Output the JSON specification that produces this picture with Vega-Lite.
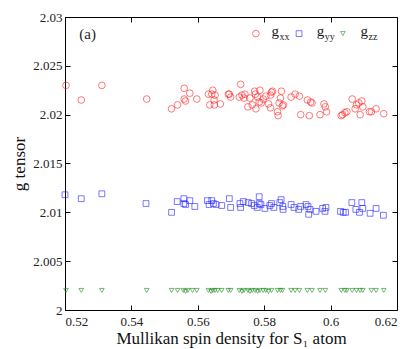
{
  "$schema": "https://vega.github.io/schema/vega-lite/v6.json",
  "width": 332,
  "height": 293,
  "autosize": {"type": "none"},
  "padding": {"left": 65, "top": 17, "right": 14, "bottom": 39},
  "background": "white",
  "config": {
    "view": {"stroke": "black", "strokeWidth": 1},
    "font": "Liberation Serif",
    "axis": {
      "domain": false,
      "grid": false,
      "tickColor": "black",
      "tickSize": -5,
      "labelFont": "Liberation Serif",
      "labelFontSize": 13,
      "labelColor": "#222",
      "titleFont": "Liberation Serif",
      "titleFontSize": 17,
      "titleFontWeight": "normal",
      "titleColor": "#111"
    }
  },
  "datasets": {
    "pts": [
      {"s":"gxx","x":0.5203,"g":2.0230},{"s":"gxx","x":0.5249,"g":2.0215},{"s":"gxx","x":0.5311,"g":2.0230},{"s":"gxx","x":0.5446,"g":2.0216},
      {"s":"gxx","x":0.5521,"g":2.0206},{"s":"gxx","x":0.5539,"g":2.0210},{"s":"gxx","x":0.5559,"g":2.0227},{"s":"gxx","x":0.5559,"g":2.0216},
      {"s":"gxx","x":0.5563,"g":2.0214},{"s":"gxx","x":0.5576,"g":2.0222},{"s":"gxx","x":0.5597,"g":2.0216},{"s":"gxx","x":0.5632,"g":2.0221},
      {"s":"gxx","x":0.5636,"g":2.0210},{"s":"gxx","x":0.5645,"g":2.0225},{"s":"gxx","x":0.5642,"g":2.0221},{"s":"gxx","x":0.5649,"g":2.0215},
      {"s":"gxx","x":0.5652,"g":2.0220},{"s":"gxx","x":0.5650,"g":2.0210},{"s":"gxx","x":0.5668,"g":2.0211},{"s":"gxx","x":0.5692,"g":2.0221},
      {"s":"gxx","x":0.5695,"g":2.0221},{"s":"gxx","x":0.5699,"g":2.0218},{"s":"gxx","x":0.5729,"g":2.0231},{"s":"gxx","x":0.5725,"g":2.0218},
      {"s":"gxx","x":0.5733,"g":2.0220},{"s":"gxx","x":0.5739,"g":2.0217},{"s":"gxx","x":0.5742,"g":2.0221},{"s":"gxx","x":0.5751,"g":2.0208},
      {"s":"gxx","x":0.5757,"g":2.0217},{"s":"gxx","x":0.5764,"g":2.0210},{"s":"gxx","x":0.5771,"g":2.0224},{"s":"gxx","x":0.5773,"g":2.0221},
      {"s":"gxx","x":0.5775,"g":2.0206},{"s":"gxx","x":0.5780,"g":2.0218},{"s":"gxx","x":0.5787,"g":2.0225},{"s":"gxx","x":0.5785,"g":2.0213},
      {"s":"gxx","x":0.5791,"g":2.0212},{"s":"gxx","x":0.5797,"g":2.0216},{"s":"gxx","x":0.5805,"g":2.0219},{"s":"gxx","x":0.5813,"g":2.0211},
      {"s":"gxx","x":0.5819,"g":2.0220},{"s":"gxx","x":0.5822,"g":2.0223},{"s":"gxx","x":0.5825,"g":2.0224},{"s":"gxx","x":0.5819,"g":2.0207},
      {"s":"gxx","x":0.5840,"g":2.0203},{"s":"gxx","x":0.5842,"g":2.0199},{"s":"gxx","x":0.5845,"g":2.0212},{"s":"gxx","x":0.5849,"g":2.0217},
      {"s":"gxx","x":0.5852,"g":2.0224},{"s":"gxx","x":0.5855,"g":2.0209},{"s":"gxx","x":0.5858,"g":2.0210},{"s":"gxx","x":0.5881,"g":2.0218},
      {"s":"gxx","x":0.5893,"g":2.0221},{"s":"gxx","x":0.5906,"g":2.0219},{"s":"gxx","x":0.5910,"g":2.0200},{"s":"gxx","x":0.5930,"g":2.0215},
      {"s":"gxx","x":0.5936,"g":2.0199},{"s":"gxx","x":0.5940,"g":2.0213},{"s":"gxx","x":0.5944,"g":2.0212},{"s":"gxx","x":0.5968,"g":2.0200},
      {"s":"gxx","x":0.5980,"g":2.0211},{"s":"gxx","x":0.5984,"g":2.0208},{"s":"gxx","x":0.5988,"g":2.0203},{"s":"gxx","x":0.6032,"g":2.0199},
      {"s":"gxx","x":0.6036,"g":2.0200},{"s":"gxx","x":0.6043,"g":2.0202},{"s":"gxx","x":0.6049,"g":2.0203},{"s":"gxx","x":0.6065,"g":2.0216},
      {"s":"gxx","x":0.6074,"g":2.0206},{"s":"gxx","x":0.6078,"g":2.0210},{"s":"gxx","x":0.6085,"g":2.0212},{"s":"gxx","x":0.6089,"g":2.0200},
      {"s":"gxx","x":0.6094,"g":2.0214},{"s":"gxx","x":0.6097,"g":2.0208},{"s":"gxx","x":0.6117,"g":2.0203},{"s":"gxx","x":0.6123,"g":2.0203},
      {"s":"gxx","x":0.6137,"g":2.0206},{"s":"gxx","x":0.6160,"g":2.0201},

      {"s":"gyy","x":0.5200,"g":2.0118},{"s":"gyy","x":0.5249,"g":2.0114},{"s":"gyy","x":0.5311,"g":2.0119},{"s":"gyy","x":0.5444,"g":2.0109},
      {"s":"gyy","x":0.5521,"g":2.0100},{"s":"gyy","x":0.5538,"g":2.0111},{"s":"gyy","x":0.5558,"g":2.0114},{"s":"gyy","x":0.5558,"g":2.0109},
      {"s":"gyy","x":0.5563,"g":2.0108},{"s":"gyy","x":0.5576,"g":2.0112},{"s":"gyy","x":0.5591,"g":2.0106},{"s":"gyy","x":0.5629,"g":2.0112},
      {"s":"gyy","x":0.5634,"g":2.0108},{"s":"gyy","x":0.5642,"g":2.0112},{"s":"gyy","x":0.5647,"g":2.0109},{"s":"gyy","x":0.5655,"g":2.0108},
      {"s":"gyy","x":0.5672,"g":2.0107},{"s":"gyy","x":0.5695,"g":2.0114},{"s":"gyy","x":0.5699,"g":2.0105},{"s":"gyy","x":0.5727,"g":2.0109},
      {"s":"gyy","x":0.5729,"g":2.0105},{"s":"gyy","x":0.5737,"g":2.0111},{"s":"gyy","x":0.5752,"g":2.0110},{"s":"gyy","x":0.5762,"g":2.0109},
      {"s":"gyy","x":0.5770,"g":2.0107},{"s":"gyy","x":0.5779,"g":2.0105},{"s":"gyy","x":0.5785,"g":2.0116},{"s":"gyy","x":0.5785,"g":2.0109},
      {"s":"gyy","x":0.5790,"g":2.0108},{"s":"gyy","x":0.5802,"g":2.0104},{"s":"gyy","x":0.5817,"g":2.0107},{"s":"gyy","x":0.5822,"g":2.0109},
      {"s":"gyy","x":0.5829,"g":2.0105},{"s":"gyy","x":0.5847,"g":2.0110},{"s":"gyy","x":0.5851,"g":2.0113},{"s":"gyy","x":0.5856,"g":2.0106},
      {"s":"gyy","x":0.5857,"g":2.0103},{"s":"gyy","x":0.5881,"g":2.0108},{"s":"gyy","x":0.5890,"g":2.0105},{"s":"gyy","x":0.5904,"g":2.0103},
      {"s":"gyy","x":0.5910,"g":2.0106},{"s":"gyy","x":0.5926,"g":2.0108},{"s":"gyy","x":0.5932,"g":2.0106},{"s":"gyy","x":0.5934,"g":2.0098},
      {"s":"gyy","x":0.5938,"g":2.0103},{"s":"gyy","x":0.5956,"g":2.0101},{"s":"gyy","x":0.5976,"g":2.0104},{"s":"gyy","x":0.5986,"g":2.0105},
      {"s":"gyy","x":0.5983,"g":2.0101},{"s":"gyy","x":0.6030,"g":2.0101},{"s":"gyy","x":0.6038,"g":2.0100},{"s":"gyy","x":0.6045,"g":2.0100},
      {"s":"gyy","x":0.6064,"g":2.0110},{"s":"gyy","x":0.6076,"g":2.0103},{"s":"gyy","x":0.6087,"g":2.0100},{"s":"gyy","x":0.6094,"g":2.0110},
      {"s":"gyy","x":0.6097,"g":2.0104},{"s":"gyy","x":0.6119,"g":2.0099},{"s":"gyy","x":0.6137,"g":2.0104},{"s":"gyy","x":0.6159,"g":2.0097},

      {"s":"gzz","x":0.5203,"g":2.0020},{"s":"gzz","x":0.5249,"g":2.0020},{"s":"gzz","x":0.5311,"g":2.0020},{"s":"gzz","x":0.5446,"g":2.0020},
      {"s":"gzz","x":0.5521,"g":2.0020},{"s":"gzz","x":0.5539,"g":2.0020},{"s":"gzz","x":0.5556,"g":2.0020},{"s":"gzz","x":0.5563,"g":2.0019},
      {"s":"gzz","x":0.5570,"g":2.0020},{"s":"gzz","x":0.5584,"g":2.0020},{"s":"gzz","x":0.5597,"g":2.0020},{"s":"gzz","x":0.5632,"g":2.0020},
      {"s":"gzz","x":0.5640,"g":2.0019},{"s":"gzz","x":0.5645,"g":2.0020},{"s":"gzz","x":0.5652,"g":2.0020},{"s":"gzz","x":0.5660,"g":2.0020},
      {"s":"gzz","x":0.5672,"g":2.0020},{"s":"gzz","x":0.5692,"g":2.0020},{"s":"gzz","x":0.5699,"g":2.0020},{"s":"gzz","x":0.5725,"g":2.0020},
      {"s":"gzz","x":0.5733,"g":2.0019},{"s":"gzz","x":0.5739,"g":2.0020},{"s":"gzz","x":0.5751,"g":2.0020},{"s":"gzz","x":0.5757,"g":2.0019},
      {"s":"gzz","x":0.5764,"g":2.0020},{"s":"gzz","x":0.5773,"g":2.0020},{"s":"gzz","x":0.5780,"g":2.0019},{"s":"gzz","x":0.5787,"g":2.0020},
      {"s":"gzz","x":0.5797,"g":2.0020},{"s":"gzz","x":0.5805,"g":2.0020},{"s":"gzz","x":0.5813,"g":2.0019},{"s":"gzz","x":0.5822,"g":2.0020},
      {"s":"gzz","x":0.5840,"g":2.0020},{"s":"gzz","x":0.5849,"g":2.0020},{"s":"gzz","x":0.5855,"g":2.0020},{"s":"gzz","x":0.5881,"g":2.0020},
      {"s":"gzz","x":0.5893,"g":2.0020},{"s":"gzz","x":0.5906,"g":2.0020},{"s":"gzz","x":0.5930,"g":2.0020},{"s":"gzz","x":0.5944,"g":2.0020},
      {"s":"gzz","x":0.5968,"g":2.0020},{"s":"gzz","x":0.5984,"g":2.0020},{"s":"gzz","x":0.6032,"g":2.0020},{"s":"gzz","x":0.6043,"g":2.0020},
      {"s":"gzz","x":0.6049,"g":2.0020},{"s":"gzz","x":0.6065,"g":2.0020},{"s":"gzz","x":0.6078,"g":2.0020},{"s":"gzz","x":0.6089,"g":2.0020},
      {"s":"gzz","x":0.6097,"g":2.0020},{"s":"gzz","x":0.6123,"g":2.0020},{"s":"gzz","x":0.6137,"g":2.0020},{"s":"gzz","x":0.6160,"g":2.0020}
    ],
    "leg": [
      {"s":"gxx","sx":0.5775,"tx":0.5822,"sub":"xx","y":2.0283},
      {"s":"gyy","sx":0.5905,"tx":0.5958,"sub":"yy","y":2.0283},
      {"s":"gzz","sx":0.6037,"tx":0.6090,"sub":"zz","y":2.0283}
    ],
    "ann": [{"x":0.5243,"y":2.0283,"t":"(a)"}]
  },
  "layer": [
    {
      "data": {"name": "pts"},
      "mark": {"type": "point", "filled": false, "strokeWidth": 0.7, "opacity": 0.85},
      "encoding": {
        "x": {"field": "x", "type": "quantitative",
              "scale": {"domain": [0.52, 0.62], "nice": false, "zero": false},
              "axis": {"orient": "bottom", "values": [0.52,0.54,0.56,0.58,0.6,0.62], "format": ".2~f",
                       "title": "Mullikan spin density for S₁ atom", "labelPadding": 10, "titlePadding": 2}},
        "y": {"field": "g", "type": "quantitative",
              "scale": {"domain": [2, 2.03], "nice": false, "zero": false},
              "axis": {"orient": "left", "values": [2,2.005,2.01,2.015,2.02,2.025,2.03], "format": ".3~f",
                       "title": "g tensor", "labelPadding": 8, "titlePadding": 4}},
        "color": {"field": "s", "type": "nominal", "legend": null,
                  "scale": {"domain": ["gxx","gyy","gzz"], "range": ["#ff2020","#2020ff","#1a8a1a"]}},
        "shape": {"field": "s", "type": "nominal", "legend": null,
                  "scale": {"domain": ["gxx","gyy","gzz"], "range": ["circle","square","triangle-down"]}},
        "size": {"field": "s", "type": "nominal", "legend": null,
                 "scale": {"domain": ["gxx","gyy","gzz"], "range": [45, 22, 30]}}
      }
    },
    {
      "data": {"name": "pts"},
      "mark": {"type": "point", "opacity": 0},
      "encoding": {
        "x": {"field": "x", "type": "quantitative",
              "axis": {"orient": "top", "values": [0.52,0.54,0.56,0.58,0.6,0.62], "labels": false, "title": null}},
        "y": {"field": "g", "type": "quantitative",
              "axis": {"orient": "right", "values": [2,2.005,2.01,2.015,2.02,2.025,2.03], "labels": false, "title": null}}
      }
    },
    {
      "data": {"name": "leg"},
      "mark": {"type": "point", "filled": false, "strokeWidth": 0.7, "opacity": 0.85},
      "encoding": {
        "x": {"field": "sx", "type": "quantitative", "axis": null},
        "y": {"field": "y", "type": "quantitative", "axis": null},
        "color": {"field": "s", "type": "nominal", "legend": null},
        "shape": {"field": "s", "type": "nominal", "legend": null},
        "size": {"field": "s", "type": "nominal", "legend": null}
      }
    },
    {
      "data": {"name": "leg"},
      "mark": {"type": "text", "align": "left", "baseline": "alphabetic", "dy": 2, "fontSize": 15, "font": "Liberation Serif", "color": "#222"},
      "encoding": {
        "x": {"field": "tx", "type": "quantitative", "axis": null},
        "y": {"field": "y", "type": "quantitative", "axis": null},
        "text": {"value": "g"}
      }
    },
    {
      "data": {"name": "leg"},
      "mark": {"type": "text", "align": "left", "baseline": "alphabetic", "dx": 8, "dy": 6, "fontSize": 10, "font": "Liberation Serif", "color": "#222"},
      "encoding": {
        "x": {"field": "tx", "type": "quantitative", "axis": null},
        "y": {"field": "y", "type": "quantitative", "axis": null},
        "text": {"field": "sub"}
      }
    },
    {
      "data": {"name": "ann"},
      "mark": {"type": "text", "align": "left", "baseline": "middle", "fontSize": 15, "font": "Liberation Serif", "color": "#222"},
      "encoding": {
        "x": {"field": "x", "type": "quantitative", "axis": null},
        "y": {"field": "y", "type": "quantitative", "axis": null},
        "text": {"field": "t"}
      }
    }
  ],
  "resolve": {"axis": {"x": "independent", "y": "independent"}}
}
